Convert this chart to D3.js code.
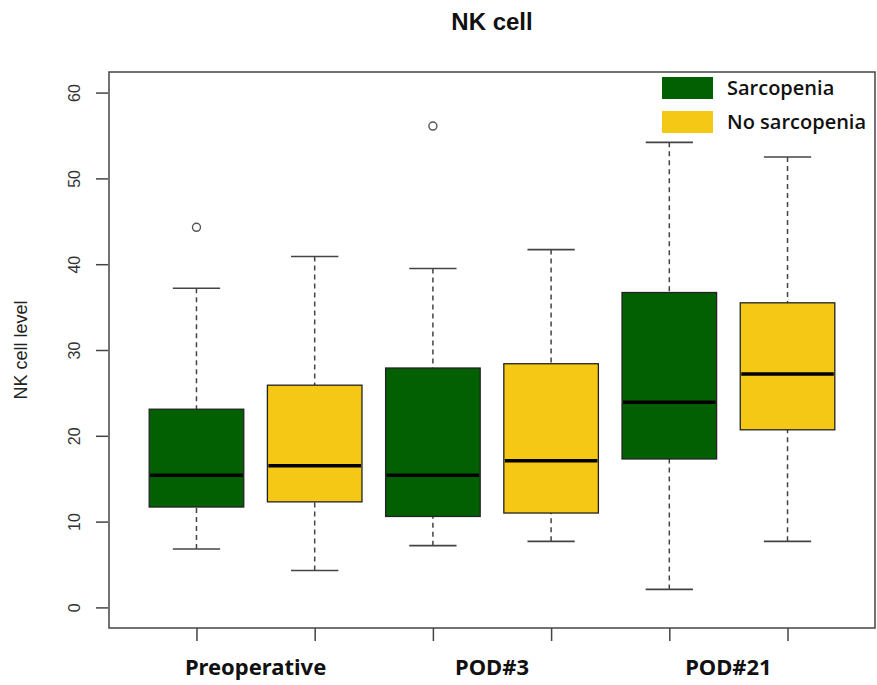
<!DOCTYPE html>
<html>
<head>
<meta charset="utf-8">
<script src="https://cdn.jsdelivr.net/npm/d3@7/dist/d3.min.js"></script>
<style>
  html, body { margin: 0; padding: 0; background: #fff; }
  svg { display: block; }
</style>
</head>
<body>
<svg id="chart" width="877" height="685"></svg>
<script>
// Time points on the x axis, two groups per time point
const timepoints = ["Preoperative", "POD#3", "POD#21"];
const groups = ["Sarcopenia", "No sarcopenia"];
const groupColors = ["#026002", "#f4c814"];

// Five-number summaries, one entry per box in plotting order:
// Preop-S, Preop-N, POD3-S, POD3-N, POD21-S, POD21-N
const lowerWhisker = [6.8, 4.3, 7.2, 7.7, 2.1, 7.7];
const q1           = [11.7, 12.3, 10.6, 11.0, 17.3, 20.7];
const median       = [15.4, 16.5, 15.4, 17.1, 23.9, 27.2];
const q3           = [23.1, 25.9, 27.9, 28.4, 36.7, 35.5];
const upperWhisker = [37.2, 40.9, 39.5, 41.7, 54.2, 52.5];
// Outliers: [box index, value]
const outliers = [[0, 44.3], [2, 56.1]];

const yTicks = [0, 10, 20, 30, 40, 50, 60];

const svg = d3.select("#chart");
const plot = { left: 109, right: 875, top: 72, bottom: 628 };

const nBoxes = median.length;
// box positions 1..n, with the usual 4% padding around [0.5, n+0.5]
const pad = nBoxes * 0.04;
const x = d3.scaleLinear()
  .domain([0.5 - pad, nBoxes + 0.5 + pad])
  .range([plot.left, plot.right]);
const y = d3.scaleLinear()
  .domain([0 - 60 * 0.04, 60 + 60 * 0.04])
  .range([plot.bottom, plot.top]);

const boxes = median.map((m, i) => ({
  pos: i + 1,
  lo: lowerWhisker[i], q1: q1[i], med: m, q3: q3[i], hi: upperWhisker[i],
  color: groupColors[i % 2]
}));

const halfW = (x(1.4) - x(1)); // box width 0.8
const capHalf = halfW / 2;

const g = svg.append("g");

// whiskers (dashed) and caps
boxes.forEach(b => {
  const cx = x(b.pos);
  g.append("line")
    .attr("x1", cx).attr("x2", cx)
    .attr("y1", y(b.hi)).attr("y2", y(b.q3))
    .attr("stroke", "#444").attr("stroke-width", 1.5)
    .attr("stroke-dasharray", "5,4");
  g.append("line")
    .attr("x1", cx).attr("x2", cx)
    .attr("y1", y(b.lo)).attr("y2", y(b.q1))
    .attr("stroke", "#444").attr("stroke-width", 1.5)
    .attr("stroke-dasharray", "5,4");
  [b.hi, b.lo].forEach(v => {
    g.append("line")
      .attr("x1", cx - capHalf).attr("x2", cx + capHalf)
      .attr("y1", y(v)).attr("y2", y(v))
      .attr("stroke", "#444").attr("stroke-width", 1.6);
  });
  g.append("rect")
    .attr("x", cx - halfW).attr("width", 2 * halfW)
    .attr("y", y(b.q3)).attr("height", y(b.q1) - y(b.q3))
    .attr("fill", b.color)
    .attr("stroke", "#222").attr("stroke-width", 1.3);
  g.append("line")
    .attr("x1", cx - halfW + 1).attr("x2", cx + halfW - 1)
    .attr("y1", y(b.med)).attr("y2", y(b.med))
    .attr("stroke", "#000").attr("stroke-width", 3.5);
});

// outlier points
g.selectAll("circle.out").data(outliers).enter().append("circle")
  .attr("class", "out")
  .attr("cx", d => x(d[0] + 1))
  .attr("cy", d => y(d[1]))
  .attr("r", 4)
  .attr("fill", "none")
  .attr("stroke", "#555")
  .attr("stroke-width", 1.4);

// frame
svg.append("rect")
  .attr("x", plot.left).attr("y", plot.top)
  .attr("width", plot.right - plot.left).attr("height", plot.bottom - plot.top)
  .attr("fill", "none").attr("stroke", "#444").attr("stroke-width", 1.5);

// y axis
const yAxis = d3.axisLeft(y).tickValues(yTicks).tickSize(12).tickPadding(0);
const ya = svg.append("g").attr("transform", `translate(${plot.left - 1},0)`).call(yAxis);
ya.select(".domain").remove();
ya.selectAll(".tick line").attr("stroke", "#444").attr("stroke-width", 1.5);
ya.selectAll(".tick text")
  .attr("transform", "rotate(-90)")
  .attr("x", 0).attr("y", -34)
  .attr("dy", "0.35em")
  .attr("text-anchor", "middle")
  .style("font-family", "Liberation Sans, Arial, sans-serif")
  .style("font-size", "16px")
  .attr("fill", "#333");

// x axis ticks at every box position
const xAxis = d3.axisBottom(x).tickValues(d3.range(1, nBoxes + 1)).tickSize(13).tickFormat("");
const xa = svg.append("g").attr("transform", `translate(0,${plot.bottom})`).call(xAxis);
xa.select(".domain").remove();
xa.selectAll(".tick line").attr("stroke", "#444").attr("stroke-width", 1.5);

// time point labels centred between each pair of boxes
svg.selectAll("text.tp").data(timepoints).enter().append("text")
  .attr("class", "tp")
  .attr("x", (d, i) => x(2 * i + 1.5))
  .attr("y", 675)
  .attr("text-anchor", "middle")
  .style("font-family", "Noto Sans, Open Sans, sans-serif")
  .style("font-weight", "bold")
  .style("font-size", "22px")
  .attr("fill", "#111")
  .text(d => d);

// title
svg.append("text")
  .attr("x", (plot.left + plot.right) / 2)
  .attr("y", 30)
  .attr("text-anchor", "middle")
  .style("font-family", "Liberation Sans, Arial, sans-serif")
  .style("font-weight", "bold")
  .style("font-size", "24px")
  .attr("fill", "#111")
  .text("NK cell");

// y axis title
svg.append("text")
  .attr("transform", `translate(27,${(plot.top + plot.bottom) / 2}) rotate(-90)`)
  .attr("text-anchor", "middle")
  .style("font-family", "Liberation Sans, Arial, sans-serif")
  .style("font-size", "18px")
  .attr("fill", "#222")
  .text("NK cell level");

// legend
const leg = svg.append("g").attr("transform", "translate(662,77)");
groups.forEach((name, i) => {
  leg.append("rect")
    .attr("x", 0).attr("y", i * 34)
    .attr("width", 51).attr("height", 22)
    .attr("fill", groupColors[i]);
  leg.append("text")
    .attr("x", 65).attr("y", i * 34 + 11)
    .attr("dy", "0.35em")
    .style("font-family", "Open Sans, Noto Sans, sans-serif")
    .style("font-size", "20px")
    .style("font-weight", "600")
    .attr("fill", "#111")
    .text(name);
});
</script>
</body>
</html>
